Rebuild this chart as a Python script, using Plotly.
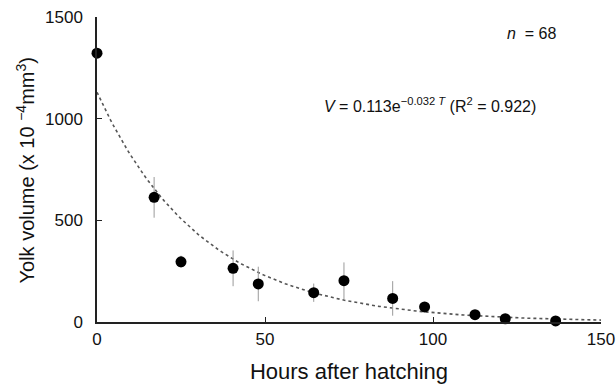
import numpy as np
import plotly.graph_objects as go

# Observed data (hours after hatching, yolk volume x10^-4 mm^3, error)
hours = [0, 17, 25, 40.5, 48, 64.5, 73.5, 88, 97.5, 112.5, 121.5, 136.5]
volume = [1322, 613, 296, 264, 187, 144, 203, 116, 74, 36, 16, 5]
err = [0, 100, 30, 88, 85, 45, 90, 85, 20, 15, 8, 5]

# Fitted model stated on chart: V = 0.113 e^(-0.032 T) mm^3 -> 1130 x10^-4 mm^3
fit_a = 1130
fit_k = 0.032
fit_t = np.linspace(0, 150, 151)
fit_v = fit_a * np.exp(-fit_k * fit_t)

x_ticks = [0, 50, 100, 150]
y_ticks = [0, 500, 1000, 1500]

FONT = "Liberation Sans, Arial, sans-serif"

fig = go.Figure()
fig.add_trace(go.Scatter(
    x=fit_t, y=fit_v, mode="lines",
    line=dict(color="#555555", width=1.6, dash="dot"),
    hoverinfo="skip", showlegend=False))
fig.add_trace(go.Scatter(
    x=hours, y=volume, mode="markers",
    marker=dict(color="black", size=11),
    error_y=dict(type="data", array=err, visible=True, color="#9a9a9a", thickness=1, width=0),
    cliponaxis=False, showlegend=False))

fig.update_layout(
    width=616, height=385,
    margin=dict(l=97, r=15, t=17, b=63),
    plot_bgcolor="white", paper_bgcolor="white",
    font=dict(family=FONT, color="#111"),
    xaxis=dict(range=[0, 150], tickvals=x_ticks, showgrid=False, zeroline=False,
               automargin=False, ticklabeloverflow="allow",
               showline=True, linecolor="#222", linewidth=1.5,
               ticks="inside", ticklen=5, tickcolor="#222",
               ticklabelstandoff=1,
               tickfont=dict(size=17, family=FONT),
               title=dict(text="Hours after hatching", font=dict(size=22, family=FONT))),
    yaxis=dict(range=[0, 1500], tickvals=y_ticks, showgrid=False, zeroline=False,
               automargin=False, ticklabeloverflow="allow",
               showline=True, linecolor="#222", linewidth=1.5,
               ticks="inside", ticklen=5, tickcolor="#222",
               ticklabelstandoff=9,
               tickfont=dict(size=17, family=FONT)),
    annotations=[
        dict(x=0, y=0.5, xref="paper", yref="paper", xanchor="center", yanchor="middle",
             xshift=-72, yshift=-1, textangle=-90,
             text="Yolk volume (x 10 <sup>−4</sup>mm<sup>3</sup>)",
             showarrow=False, font=dict(size=20, family=FONT)),
        dict(x=121.5, y=1421, xref="x", yref="y", xanchor="left", yanchor="middle",
             text="<i>n</i>  = 68", showarrow=False, font=dict(size=16, family=FONT)),
        dict(x=67, y=1067, xref="x", yref="y", xanchor="left", yanchor="middle",
             text="<i>V</i> = 0.113e<sup>−0.032 <i>T</i></sup> (R<sup>2</sup> = 0.922)",
             showarrow=False, font=dict(size=16, family=FONT)),
    ],
)

fig.write_html("out.html",
               config={"displayModeBar": False},
               post_script="document.body.style.margin='0';document.body.style.overflow='hidden';")
